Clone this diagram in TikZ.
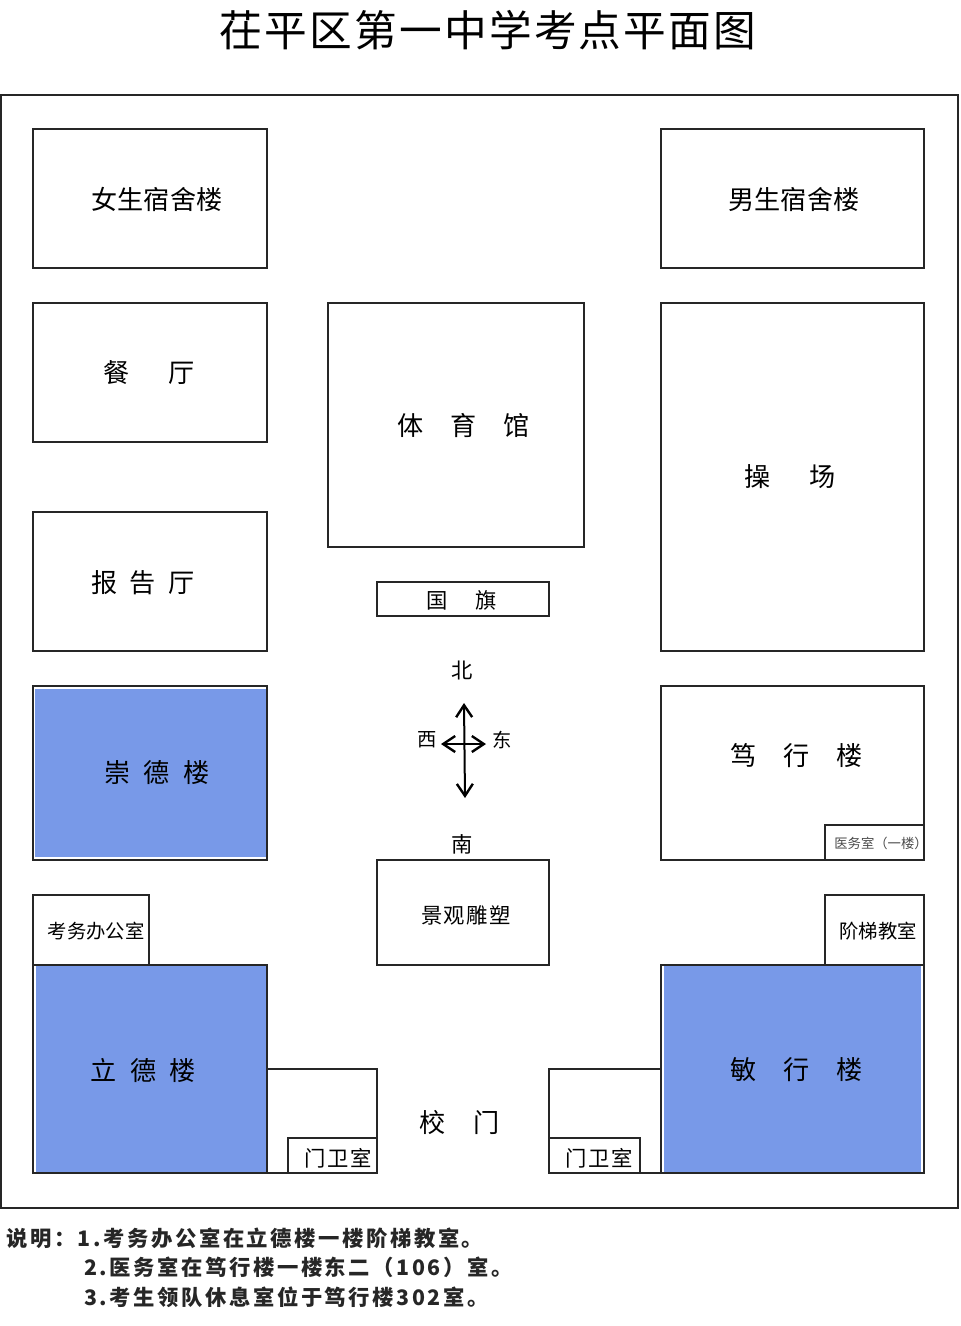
\documentclass[tikz,border=0pt]{standalone}
\usepackage{fontspec}
\usepackage{tikz}
\usetikzlibrary{arrows.meta}
\newfontfamily\cjk{Noto Sans CJK SC}
\definecolor{floorblue}{HTML}{7899E8}
\newcommand{\gap}[1]{\hspace{#1pt}}
\tikzset{
  room/.style={draw=black!85, line width=1.2pt, fill=white},
  wing/.style={fill=floorblue, draw=none},
  big/.style={font=\cjk\fontsize{19.6}{24}\selectfont, inner sep=0pt},
  mid/.style={font=\cjk\fontsize{16}{20}\selectfont\addfontfeature{LetterSpace=7}, inner sep=0pt},
  small/.style={font=\cjk\fontsize{14.5}{18}\selectfont, inner sep=0pt},
  tiny/.style={font=\cjk\fontsize{10}{12}\selectfont, inner sep=0pt, text=black!70},
  note/.style={font=\cjk\bfseries\fontsize{16}{20}\selectfont\addfontfeature{LetterSpace=12}, inner sep=0pt, anchor=west, text=black!85},
  needle/.style={line width=1.5pt, {Straight Barb[length=9pt,width=12pt,line width=1.8pt]}-{Straight Barb[length=9pt,width=12pt,line width=1.8pt]}}
}
\begin{document}
\begin{tikzpicture}[x=0.75pt, y=-0.75pt]

      \useasboundingbox (0,0) rectangle (960,1326);

      % Title
	  \node[font=\cjk\fontsize{32}{36}\selectfont, inner sep=0pt] (title) at (488,30)
	    {\addfontfeature{LetterSpace=5.3}茌平区第一中学考点平面图};

      % Define rooms
	  \draw[room] (1,95) rectangle (958,1208);
	  \draw[room] (33,129) rectangle (267,268);
	  \draw[room] (661,129) rectangle (924,268);
	  \draw[room] (33,303) rectangle (267,442);
	  \draw[room] (328,303) rectangle (584,547);
	  \draw[room] (661,303) rectangle (924,651);
	  \draw[room] (33,512) rectangle (267,651);
	  \draw[room] (377,582) rectangle (549,616);
	  \draw[room] (33,686) rectangle (267,860);
	  \draw[room] (661,686) rectangle (924,860);
	  \draw[room] (825,825) rectangle (924,860);
	  \draw[room] (377,860) rectangle (549,965);
	  \draw[room] (33,895) rectangle (149,965);
	  \draw[room] (825,895) rectangle (924,965);
	  \draw[room] (33,965) rectangle (267,1173);
	  \draw[room] (661,965) rectangle (924,1173);
	  \draw[room] (267,1069) rectangle (377,1173);
	  \draw[room] (288,1138) rectangle (377,1173);
	  \draw[room] (549,1069) rectangle (661,1173);
	  \draw[room] (549,1138) rectangle (640,1173);

      % Blue floors
	  \fill[wing] (35,689) rectangle (266,857);
	  \fill[wing] (36,966) rectangle (266,1172);
	  \fill[wing] (664,966) rectangle (921,1172);

      % Labels
	  \node[big] (girls) at (157,199) {女生宿舍楼};
	  \node[big] (boys) at (794,199) {男生宿舍楼};
	  \node[big] (canteen) at (149,373) {餐\gap{29}厅};
	  \node[big] (gym) at (463.5,425) {体\gap{20}育\gap{20}馆};
	  \node[big] (field) at (790,477) {操\gap{29}场};
	  \node[big] (hall) at (143,583) {报\gap{9}告\gap{9}厅};
	  \node[mid] (flag) at (461.5,600) {国\gap{21}旗};
	  \node[big] (chongde) at (157,773) {崇\gap{10}德\gap{10}楼};
	  \node[big] (duxing) at (796.5,756) {笃\gap{20}行\gap{20}楼};
	  \node[tiny] (clinic) at (881,843) {医务室（一楼）};
	  \node[mid] (sculpture) at (466,915) {景观雕塑};
	  \node[small] (office) at (96,931) {考务办公室};
	  \node[small] (lecture) at (878,931) {阶梯教室};
	  \node[big] (lide) at (143.5,1070) {立\gap{10}德\gap{10}楼};
	  \node[big] (minxing) at (796.5,1070) {敏\gap{20}行\gap{20}楼};
	  \node[big] (gate) at (460,1122) {校\gap{21}门};
	  \node[mid] (guardl) at (338,1158) {门卫室};
	  \node[mid] (guardr) at (599,1158) {门卫室};

      % Compass
	  \node[mid] (north) at (462,670) {北};
	  \node[mid] (south) at (462,844) {南};
	  \node[small] (west) at (427,740) {西};
	  \node[small] (east) at (502,740) {东};
	  \coordinate (n-tip) at (464,703);
	  \coordinate (s-tip) at (465,798);
	  \coordinate (w-tip) at (441,744);
	  \coordinate (e-tip) at (486,744);
	  \draw[needle] (n-tip) -- (s-tip);
	  \draw[needle] (w-tip) -- (e-tip);

      % Notes
	  \node[note] (note1) at (6,1238) {说明：1.考务办公室在立德楼一楼阶梯教室。};
	  \node[note] (note2) at (84,1267) {2.医务室在笃行楼一楼东二（106）室。};
	  \node[note] (note3) at (84,1297) {3.考生领队休息室位于笃行楼302室。};

\end{tikzpicture}
\end{document}
